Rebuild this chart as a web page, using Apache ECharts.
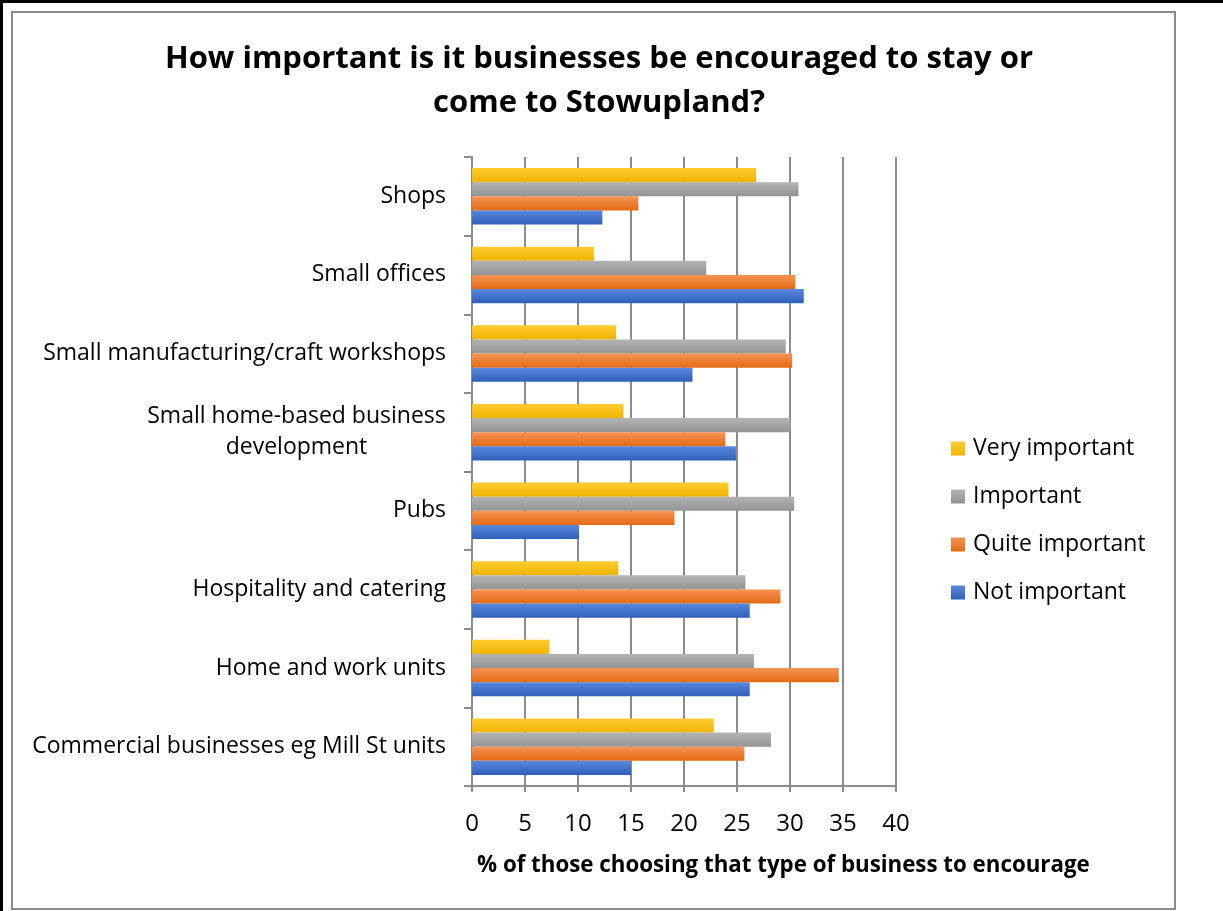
<!DOCTYPE html>
<html>
<head>
<meta charset="utf-8">
<script src="https://cdn.jsdelivr.net/npm/echarts@6/dist/echarts.min.js"></script>
<style>
  html, body { margin: 0; padding: 0; background: #fff; }
  #chart { width: 1223px; height: 911px; }
</style>
</head>
<body>
<div id="chart"></div>
<script>
const categories = [
  'Shops',
  'Small offices',
  'Small manufacturing/craft workshops',
  'Small home-based business\ndevelopment',
  'Pubs',
  'Hospitality and catering',
  'Home and work units',
  'Commercial businesses eg Mill St units'
];
const veryImportant  = [26.8, 11.5, 13.6, 14.3, 24.2, 13.8, 7.3, 22.8];
const important      = [30.8, 22.1, 29.6, 30.0, 30.4, 25.8, 26.6, 28.2];
const quiteImportant = [15.7, 30.5, 30.2, 23.9, 19.1, 29.1, 34.6, 25.7];
const notImportant   = [12.3, 31.3, 20.8, 24.9, 10.1, 26.2, 26.2, 15.0];
const xTicks = [0, 5, 10, 15, 20, 25, 30, 35, 40];

const FONT = '"Open Sans", sans-serif';
const CAT_SIZE = 23;

function grad(top, bottom) {
  return new echarts.graphic.LinearGradient(0, 0, 0, 1, [
    { offset: 0, color: top }, { offset: 1, color: bottom }
  ]);
}

// measure widest line of a multi-line label, to centre wrapped lines like the original
const mctx = document.createElement('canvas').getContext('2d');
mctx.font = CAT_SIZE + 'px ' + FONT;
function maxLineWidth(s) {
  return Math.max.apply(null, s.split('\n').map(l => mctx.measureText(l).width));
}

const seriesDefs = [
  { name: 'Very important', data: veryImportant, color: '#FFC000', g: ['#ffcc33', '#f0b400'] },
  { name: 'Important', data: important, color: '#A5A5A5', g: ['#b4b4b4', '#939393'] },
  { name: 'Quite important', data: quiteImportant, color: '#ED7D31', g: ['#f59455', '#e56a14'] },
  { name: 'Not important', data: notImportant, color: '#4472C4', g: ['#5a88dc', '#2f5fb8'] }
];

const chart = echarts.init(document.getElementById('chart'), null, { renderer: 'canvas' });

const wrapW = Math.ceil(maxLineWidth(categories[3]));

chart.setOption({
  animation: false,
  backgroundColor: '#fff',
  title: {
    text: 'How important is it businesses be encouraged to stay or\ncome to Stowupland?',
    left: 594,
    top: 32,
    textAlign: 'center',
    textStyle: { fontFamily: FONT, fontWeight: 'bold', fontSize: 31, lineHeight: 44, color: '#000' }
  },
  legend: {
    orient: 'vertical',
    left: 946,
    top: 432,
    itemWidth: 14,
    itemHeight: 14,
    itemGap: 25,
    icon: 'rect',
    data: ['Very important', 'Important', 'Quite important', 'Not important'],
    textStyle: { fontFamily: FONT, fontSize: 23, color: '#000', padding: [0, 0, 0, 3] }
  },
  grid: { left: 472, right: 327, top: 157, bottom: 125, containLabel: false },
  xAxis: {
    type: 'value',
    min: 0,
    max: 40,
    interval: 5,
    axisLine: { show: true, lineStyle: { color: '#8c8c8c', width: 2 } },
    axisTick: { show: true, length: 6, lineStyle: { color: '#8c8c8c', width: 2 } },
    splitLine: { show: true, lineStyle: { color: '#8c8c8c', width: 2 } },
    axisLabel: {
      fontFamily: FONT, fontSize: 24, color: '#000', margin: 26,
      formatter: function (v) { return xTicks.indexOf(v) >= 0 ? String(v) : ''; }
    }
  },
  yAxis: {
    type: 'category',
    inverse: true,
    data: categories,
    axisLine: { show: true, lineStyle: { color: '#8c8c8c', width: 2 } },
    axisTick: { show: true, length: 8, lineStyle: { color: '#8c8c8c', width: 2 } },
    axisLabel: {
      fontFamily: FONT, fontSize: CAT_SIZE, color: '#000', margin: 26, lineHeight: 31, align: 'right',
      formatter: function (v) {
        return v.indexOf('\n') >= 0 ? v.split('\n').map(l => '{w|' + l + '}').join('\n') : v;
      },
      rich: { w: { width: wrapW, align: 'center', fontFamily: FONT, fontSize: CAT_SIZE, lineHeight: 31, color: '#000' } }
    }
  },
  graphic: [
    { type: 'rect', shape: { x: 0, y: 0, width: 3, height: 911 }, style: { fill: '#000' }, silent: true },
    { type: 'rect', shape: { x: 0, y: 0, width: 1223, height: 3 }, style: { fill: '#000' }, silent: true },
    { type: 'rect', shape: { x: 12, y: 12, width: 1163, height: 897 }, style: { fill: 'none', stroke: '#8c8c8c', lineWidth: 2 }, silent: true },
    {
      type: 'text', left: 477, top: 855,
      style: { text: '% of those choosing that type of business to encourage', fontFamily: FONT, fontWeight: 'bold', fontSize: 22.3, fill: '#000' }
    }
  ],
  series: seriesDefs.map(s => ({
    name: s.name,
    type: 'bar',
    data: s.data,
    barGap: '0%',
    barCategoryGap: '28%',
    itemStyle: { color: grad(s.g[0], s.g[1]) },
    color: s.color
  }))
});
</script>
</body>
</html>
